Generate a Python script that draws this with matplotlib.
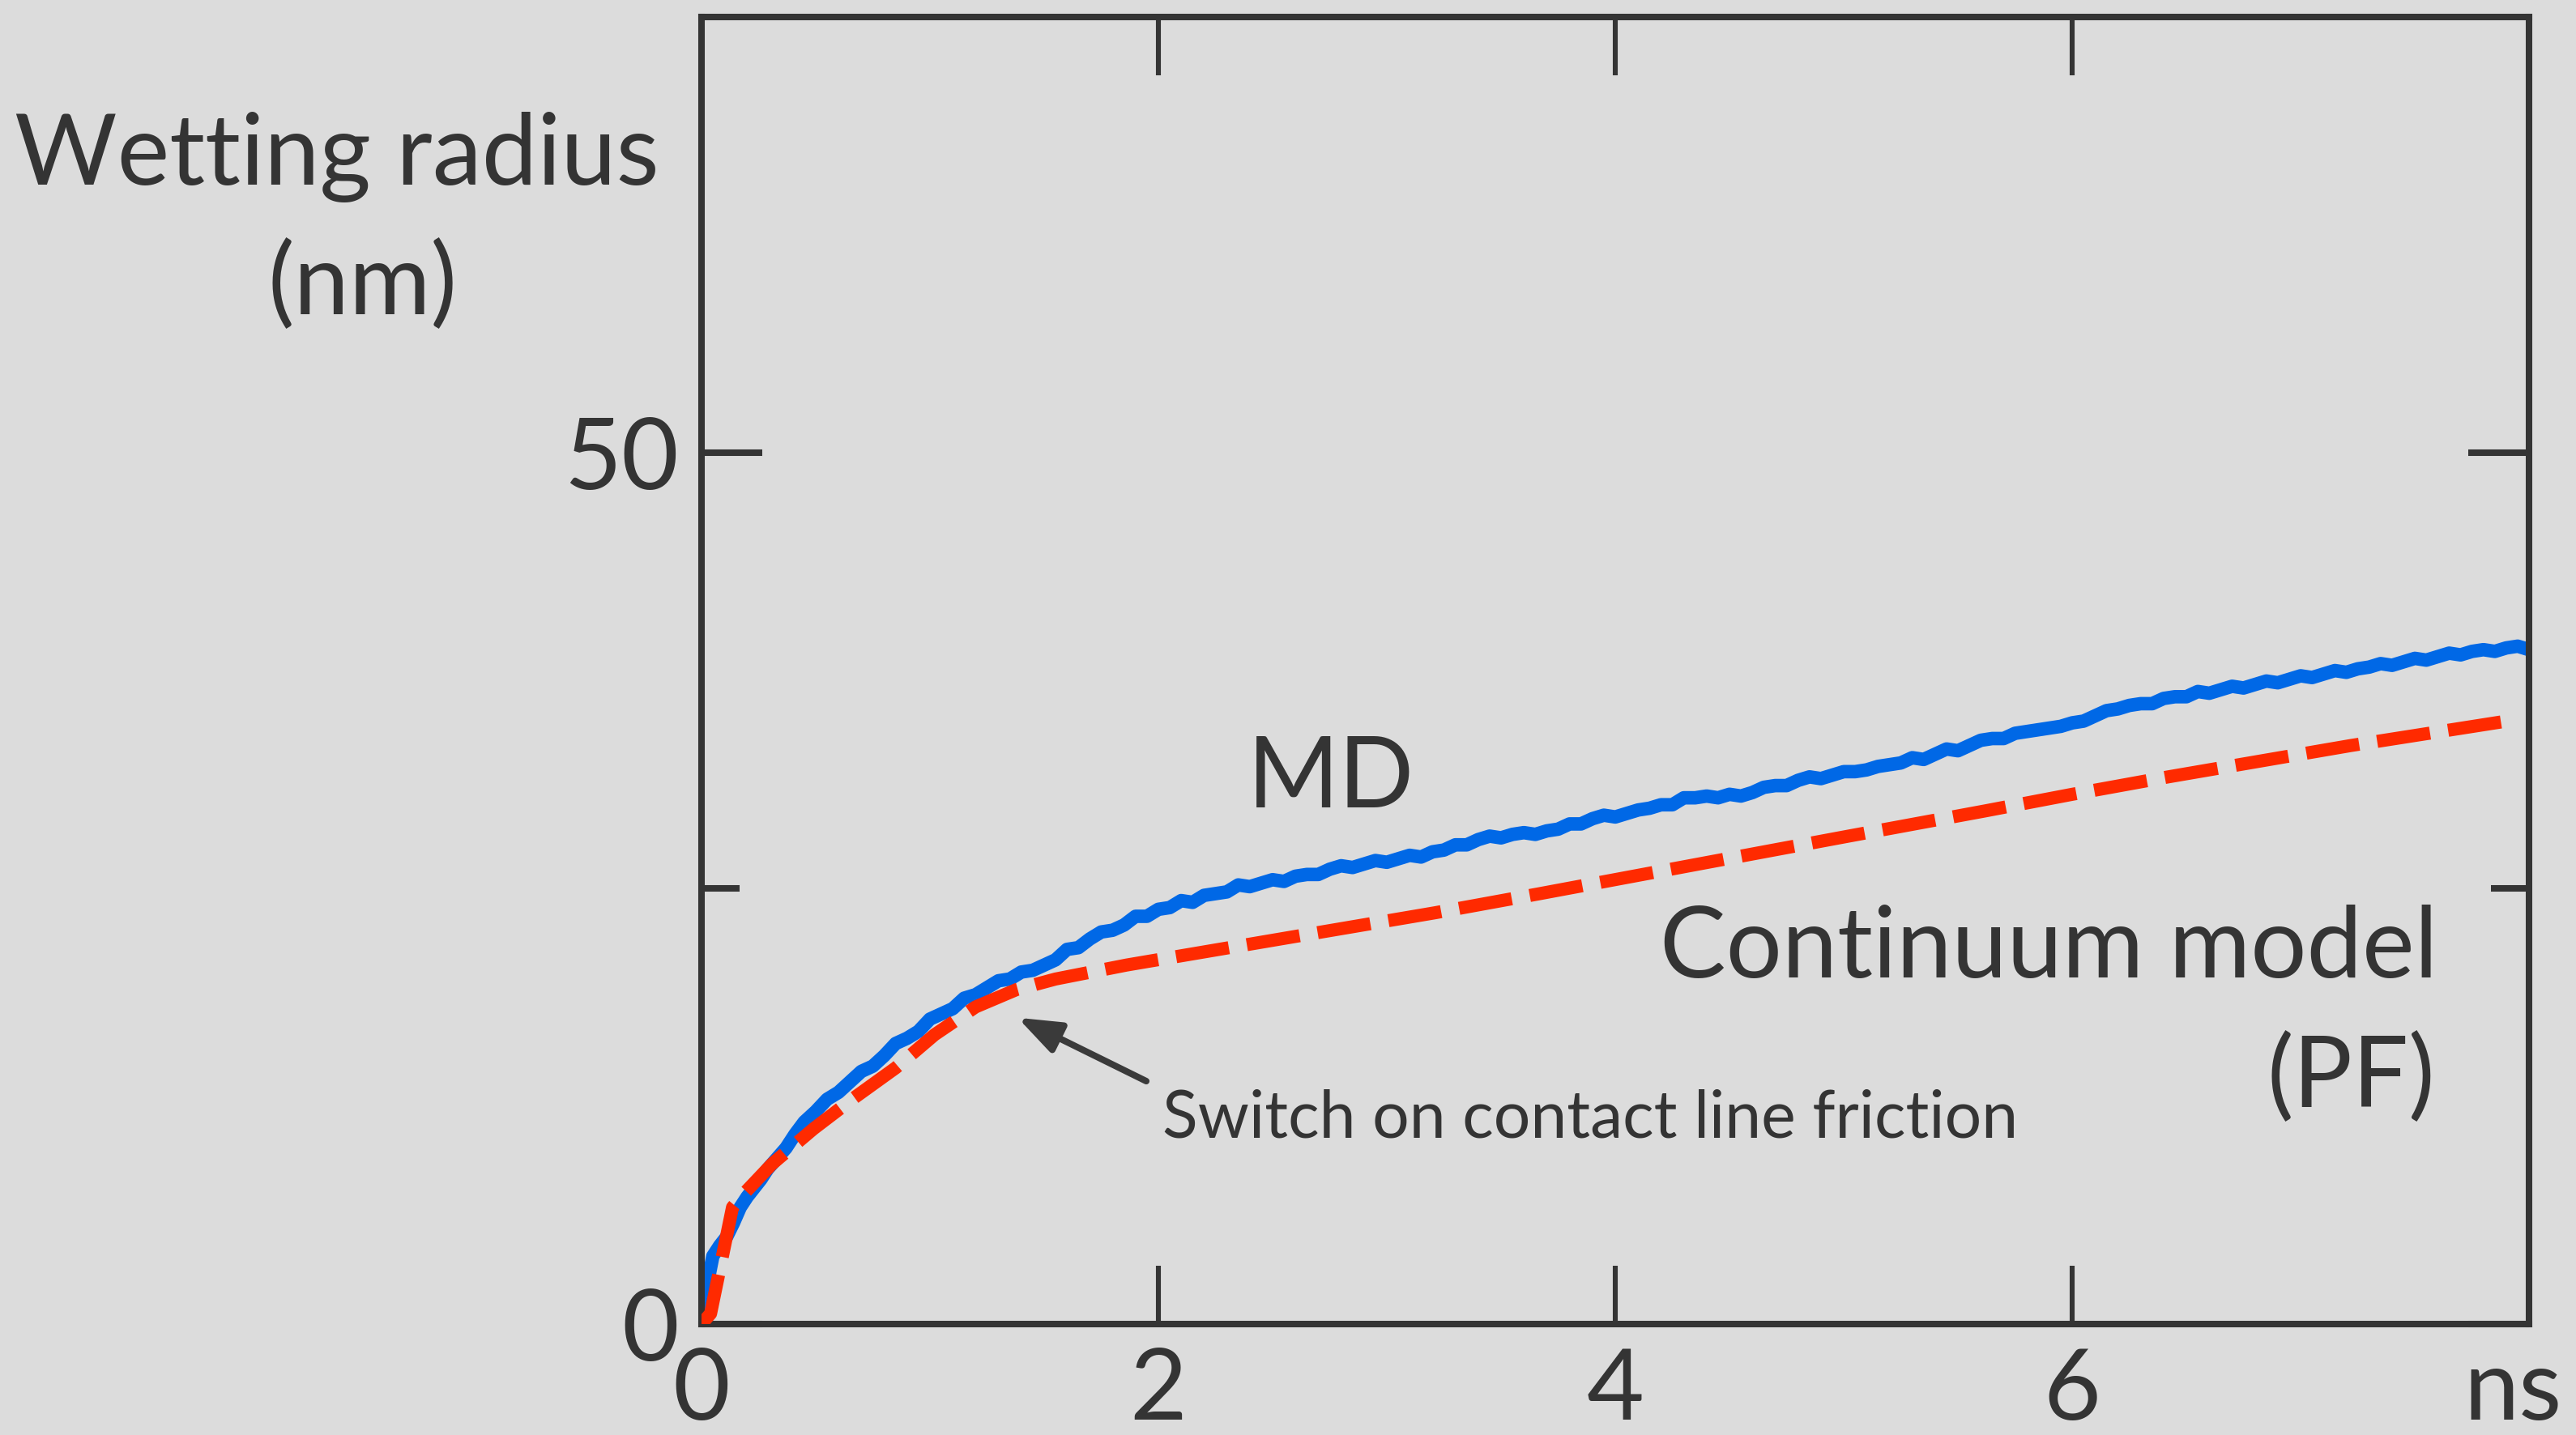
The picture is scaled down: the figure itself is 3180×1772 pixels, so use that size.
import numpy as np
import matplotlib.pyplot as plt

# -- colours --
BG = '#dcdcdc'
INK = '#343434'
BLUE = '#0068e6'
RED = '#ff2a00'

# -- MD trace: wetting radius (nm) vs time (ns) --
md_t_early = [0.0, 0.02, 0.05, 0.08, 0.11, 0.14, 0.17, 0.20, 0.23, 0.26,
              0.29, 0.33, 0.37, 0.41, 0.45]
md_r_early = [0.0, 1.9, 3.9, 4.5, 5.0, 5.8, 6.7, 7.3, 7.8, 8.3,
              8.9, 9.5, 10.1, 10.9, 11.6]

# frames every 0.05 ns from 0.5 ns on
md_r_late = [
    12.2, 12.9, 13.3, 13.9, 14.5, 14.8, 15.4, 16.1, 16.4, 16.8,   # 0.50-0.95
    17.5, 17.8, 18.1, 18.7, 18.9, 19.3, 19.7, 19.8, 20.2, 20.3,   # 1.00-1.45
    20.6, 20.9, 21.5, 21.6, 22.1, 22.5, 22.6, 22.9, 23.4, 23.4,   # 1.50-1.95
    23.8, 23.9, 24.3, 24.2, 24.6, 24.7, 24.8, 25.2, 25.1, 25.3,   # 2.00-2.45
    25.5, 25.4, 25.7, 25.8, 25.8, 26.1, 26.3, 26.2, 26.4, 26.6,   # 2.50-2.95
    26.5, 26.7, 26.9, 26.8, 27.1, 27.2, 27.5, 27.5, 27.8, 28.0,   # 3.00-3.45
    27.9, 28.1, 28.2, 28.1, 28.3, 28.4, 28.7, 28.7, 29.0, 29.2,   # 3.50-3.95
    29.1, 29.3, 29.5, 29.6, 29.8, 29.8, 30.2, 30.2, 30.3, 30.2,   # 4.00-4.45
    30.4, 30.3, 30.5, 30.8, 30.9, 30.9, 31.2, 31.4, 31.3, 31.5,   # 4.50-4.95
    31.7, 31.7, 31.8, 32.0, 32.1, 32.2, 32.5, 32.4, 32.7, 33.0,   # 5.00-5.45
    32.9, 33.2, 33.5, 33.6, 33.6, 33.9, 34.0, 34.1, 34.2, 34.3,   # 5.50-5.95
    34.5, 34.6, 34.9, 35.2, 35.3, 35.5, 35.6, 35.6, 35.9, 36.0,   # 6.00-6.45
    36.0, 36.3, 36.2, 36.4, 36.6, 36.5, 36.7, 36.9, 36.8, 37.0,   # 6.50-6.95
    37.2, 37.1, 37.3, 37.5, 37.4, 37.6, 37.7, 37.9, 37.8, 38.0,   # 7.00-7.45
    38.2, 38.1, 38.3, 38.5, 38.4, 38.6, 38.7, 38.6, 38.8, 38.9,   # 7.50-7.95
    38.7,                                                         # 8.00
]
md_t_late = np.round(0.5 + 0.05 * np.arange(len(md_r_late)), 2)

md_t = np.concatenate([md_t_early, md_t_late])
md_r = np.concatenate([md_r_early, md_r_late])

# -- continuum (phase field) model --
pf_t = [0.0, 0.04, 0.136, 0.18, 0.31, 0.49, 0.67, 0.85, 1.02, 1.2,
        1.38, 1.55, 1.86, 2.31, 2.76, 3.21, 3.67, 4.12, 4.57, 5.0,
        5.62, 6.0, 6.42, 7.22, 7.95]
pf_r = [0.0, 0.6, 6.7, 7.4, 9.2, 11.2, 13.0, 14.7, 16.6, 18.2,
        19.2, 19.8, 20.6, 21.6, 22.6, 23.6, 24.7, 25.8, 26.9, 27.95,
        29.45, 30.4, 31.4, 33.2, 34.7]

# -- ticks --
x_ticks = [0, 2, 4, 6, 8]
x_tick_labels = ['0', '2', '4', '6', '']
x_unit = 'ns'
y_ticks = [0, 50]
y_tick_labels = ['0', '50']
y_minor_ticks = [25]


plt.rcParams['font.family'] = ['Lato', 'DejaVu Sans']

fig = plt.figure(figsize=(15.9, 8.86), dpi=200, facecolor=BG)
ax = fig.add_axes([0.2723, 0.0773, 0.7095, 0.9108])
ax.set_facecolor(BG)

ax.plot(md_t, md_r, color=BLUE, lw=6.0, solid_joinstyle='round',
        solid_capstyle='round', zorder=2)
ax.plot(pf_t, pf_r, color=RED, lw=5.8, dashes=(4.1, 1.4),
        dash_capstyle='butt', zorder=3)

ax.set_xlim(0, 8)
ax.set_ylim(0, 75)

ax.set_xticks(x_ticks, labels=x_tick_labels)
ax.set_yticks(y_ticks, labels=y_tick_labels)
ax.set_yticks(y_minor_ticks, minor=True)

ax.tick_params(axis='both', which='both', direction='in',
               top=True, right=True, colors=INK, labelsize=44)
ax.tick_params(axis='x', length=26, width=2.2, pad=10)
ax.tick_params(axis='y', which='major', length=27, width=2.9, pad=10)
ax.tick_params(axis='y', which='minor', length=17, width=2.9)

for spine in ax.spines.values():
    spine.set_linewidth(2.9)
    spine.set_color(INK)

# unit in place of the last x tick label, nudged in from the edge
ax.annotate(x_unit, xy=(7.93, 0), xycoords=('data', 'axes fraction'),
            xytext=(0, -10), textcoords='offset points',
            ha='center', va='top', fontsize=44, color=INK,
            annotation_clip=False)

# -- labels --
ax.text(2.756, 29.65, 'MD', ha='center', va='baseline',
        fontsize=44, color=INK)
ax.text(7.60, 19.89, 'Continuum model', ha='right', va='baseline',
        fontsize=44, color=INK)
ax.text(7.59, 12.45, '(PF)', ha='right', va='baseline',
        fontsize=44, color=INK)

ax.annotate(
    '',
    xy      = (1.384, 17.58),
    xytext  = (1.947, 13.94),
    arrowprops = dict(
        arrowstyle     = '-|>,head_length=0.8,head_width=0.3',
        color          = '#3a3a3a',
        lw             = 2.9,
        mutation_scale = 20,
        shrinkA        = 0,
        shrinkB        = 0,
    ),
)
ax.text(2.018, 10.69, 'Switch on contact line friction', ha='left',
        va='baseline', fontsize=29, color=INK)

fig.text(0.1308, 0.8713, 'Wetting radius', ha='center', va='baseline',
         fontsize=44, color=INK)
fig.text(0.1409, 0.781, '(nm)', ha='center', va='baseline',
         fontsize=44, color=INK)

fig.savefig('out.png', dpi=200, facecolor=BG)
plt.close(fig)
